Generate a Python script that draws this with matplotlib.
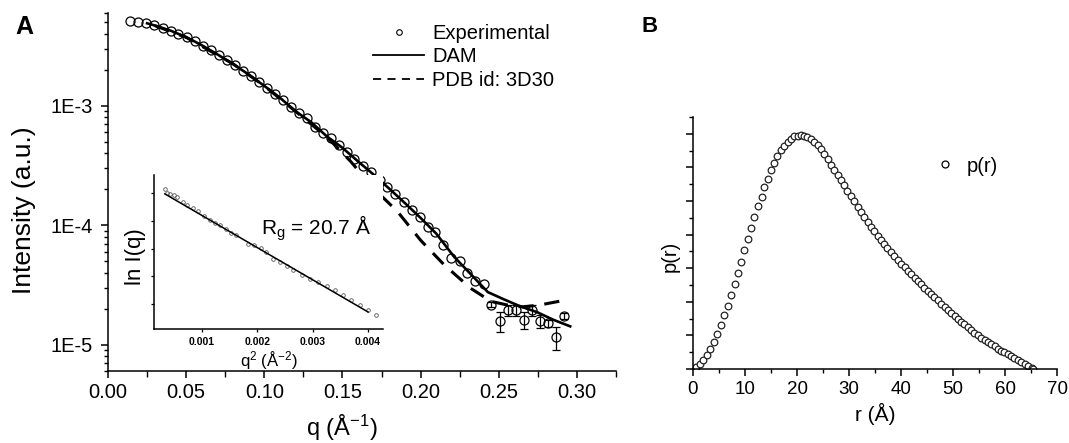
import numpy as np
import matplotlib
matplotlib.use('Agg')
import matplotlib.pyplot as plt
from matplotlib.lines import Line2D
from matplotlib.ticker import MultipleLocator, LogLocator, NullFormatter, FormatStrFormatter

plt.rcParams['font.family'] = ['Liberation Sans', 'DejaVu Sans']
plt.rcParams['mathtext.default'] = 'regular'

# --- panel A: scattering curve ---
q_exp = [0.0140, 0.0192, 0.0243, 0.0296, 0.0349, 0.0400, 0.0451, 0.0504, 0.0556, 0.0605,
         0.0658, 0.0707, 0.0760, 0.0811, 0.0864, 0.0915, 0.0966, 0.1015, 0.1066, 0.1117,
         0.1169, 0.1220, 0.1275, 0.1324, 0.1377, 0.1424, 0.1477, 0.1531, 0.1577, 0.1630,
         0.1684, 0.1737, 0.1786, 0.1839, 0.1892, 0.1946, 0.1994, 0.2045, 0.2094, 0.2144,
         0.2197, 0.2250, 0.2297, 0.2350, 0.2403, 0.2452, 0.2505, 0.2556, 0.2610, 0.2659,
         0.2712, 0.2761, 0.2812, 0.2865, 0.2918]
I_exp = [5.18e-3, 5.05e-3, 4.95e-3, 4.73e-3, 4.52e-3, 4.26e-3, 4.01e-3, 3.75e-3, 3.47e-3, 3.19e-3,
         2.92e-3, 2.67e-3, 2.42e-3, 2.20e-3, 1.97e-3, 1.78e-3, 1.59e-3, 1.42e-3, 1.26e-3, 1.12e-3,
         9.87e-4, 8.77e-4, 7.88e-4, 6.70e-4, 5.90e-4, 5.36e-4, 4.70e-4, 4.13e-4, 3.57e-4, 3.13e-4,
         2.77e-4, 2.39e-4, 2.10e-4, 1.81e-4, 1.57e-4, 1.34e-4, 1.17e-4, 9.68e-5, 8.79e-5, 6.79e-5,
         5.35e-5, 5.01e-5, 4.01e-5, 3.41e-5, 3.24e-5, 2.16e-5, 1.57e-5, 1.95e-5, 1.95e-5, 1.61e-5,
         1.93e-5, 1.57e-5, 1.51e-5, 1.15e-5, 1.75e-5]
I_err = [0] * 45 + [1e-6, 3e-6, 2e-6, 2e-6, 2.5e-6, 2e-6, 2e-6, 1e-6, 2.5e-6, 1e-6]

q_dam = [0.025, 0.03, 0.04, 0.05, 0.06, 0.07, 0.08, 0.09, 0.10, 0.11, 0.12, 0.13, 0.14,
         0.15, 0.16, 0.17, 0.18, 0.19, 0.20, 0.21, 0.2215, 0.232, 0.243, 0.253, 0.2637,
         0.2744, 0.285, 0.2957]
I_dam = [4.92e-3, 4.71e-3, 4.27e-3, 3.77e-3, 3.22e-3, 2.70e-3, 2.24e-3, 1.83e-3, 1.47e-3,
         1.17e-3, 9.0e-4, 7.3e-4, 5.55e-4, 4.45e-4, 3.42e-4, 2.65e-4, 2.02e-4, 1.53e-4,
         1.15e-4, 8.5e-5, 5.42e-5, 3.9e-5, 2.75e-5, 2.4e-5, 2.09e-5, 1.87e-5, 1.61e-5, 1.42e-5]

q_pdb = [0.03, 0.05, 0.08, 0.10, 0.12, 0.14, 0.150, 0.155, 0.170, 0.185, 0.200, 0.215,
         0.232, 0.245, 0.255, 0.265, 0.275, 0.290]
I_pdb = [4.70e-3, 3.75e-3, 2.25e-3, 1.47e-3, 8.99e-4, 5.48e-4, 4.03e-4, 3.45e-4, 2.03e-4,
         1.31e-4, 7.48e-5, 4.66e-5, 2.96e-5, 2.30e-5, 2.15e-5, 2.07e-5, 2.13e-5, 2.32e-5]

# inset: Guinier plot
q2_guinier = [0.000325, 0.000374, 0.000428, 0.000488, 0.000548, 0.000657, 0.000729, 0.000838,
              0.000928, 0.00104, 0.00114, 0.00123, 0.00132, 0.00143, 0.00152, 0.00161, 0.00183,
              0.00193, 0.00207, 0.00216, 0.00228, 0.00241, 0.00253, 0.00265, 0.00280, 0.00295,
              0.00310, 0.00325, 0.00340, 0.00355, 0.00370, 0.00385, 0.00400, 0.00415]
lnI_guinier = [-5.260, -5.277, -5.282, -5.289, -5.296, -5.318, -5.330, -5.343, -5.357, -5.380,
               -5.395, -5.409, -5.419, -5.437, -5.453, -5.463, -5.499, -5.506, -5.516, -5.535,
               -5.564, -5.579, -5.598, -5.615, -5.637, -5.651, -5.666, -5.685, -5.702, -5.724,
               -5.743, -5.767, -5.789, -5.811]
q2_fit = [0.000325, 0.00400]
lnI_fit = [-5.282, -5.796]

# --- panel B: pair distance distribution ---
r_vals = [0.0, 0.6, 1.3, 2.0, 2.7, 3.3, 4.0, 4.7, 5.3, 6.0, 6.7, 7.3, 8.0, 8.6, 9.2, 9.9,
          10.5, 11.2, 11.8, 12.5, 13.2, 13.7, 14.4, 15.0, 15.6, 16.2, 16.9, 17.5, 18.2, 18.8,
          19.5, 20.1, 20.7, 21.4, 22.0, 22.7, 23.3, 24.0, 24.6, 25.2, 25.9, 26.5, 27.2, 27.8,
          28.5, 29.1, 29.7, 30.4, 31.0, 31.7, 32.3, 32.9, 33.6, 34.2, 34.9, 35.5, 36.2, 36.8,
          37.4, 38.1, 38.7, 39.4, 40.0, 40.7, 41.3, 41.9, 42.6, 43.2, 43.9, 44.5, 45.2, 45.8,
          46.4, 47.1, 47.7, 48.4, 49.0, 49.6, 50.3, 50.9, 51.6, 52.2, 52.9, 53.5, 54.1, 54.8,
          55.4, 56.1, 56.7, 57.4, 58.0, 58.6, 59.3, 59.9, 60.6, 61.2, 61.8, 62.5, 63.1, 63.8,
          64.4, 65.1, 65.4]
p_vals = [0.0, 0.07, 0.14, 0.27, 0.42, 0.60, 0.81, 1.04, 1.31, 1.60, 1.88, 2.19, 2.53, 2.86,
          3.19, 3.53, 3.86, 4.20, 4.52, 4.84, 5.13, 5.41, 5.66, 5.92, 6.14, 6.34, 6.51, 6.65,
          6.77, 6.86, 6.92, 6.94, 6.95, 6.93, 6.90, 6.84, 6.77, 6.67, 6.54, 6.40, 6.24, 6.08,
          5.93, 5.78, 5.62, 5.47, 5.31, 5.15, 4.99, 4.83, 4.67, 4.52, 4.37, 4.24, 4.10, 3.97,
          3.84, 3.71, 3.59, 3.47, 3.36, 3.24, 3.13, 3.03, 2.92, 2.82, 2.72, 2.62, 2.52, 2.42,
          2.32, 2.23, 2.13, 2.04, 1.94, 1.86, 1.77, 1.68, 1.59, 1.50, 1.41, 1.33, 1.24, 1.16,
          1.08, 1.00, 0.93, 0.86, 0.79, 0.73, 0.67, 0.61, 0.55, 0.50, 0.45, 0.39, 0.33, 0.27,
          0.21, 0.15, 0.09, 0.04, 0.01]

W, H = 1069, 443
fig = plt.figure(figsize=(W / 100, H / 100), dpi=100)


def frac(left, top, right, bottom):
    # pixel box -> figure fraction
    return [left / W, 1 - bottom / H, (right - left) / W, (bottom - top) / H]


def clean(ax):
    ax.spines['top'].set_visible(False)
    ax.spines['right'].set_visible(False)
    for s in ('left', 'bottom'):
        ax.spines[s].set_linewidth(1.1)


# panel A
ax = fig.add_axes(frac(108, 13, 616, 371))
clean(ax)
ax.set_yscale('log')
ax.plot(q_dam, I_dam, color='black', lw=1.9, zorder=3)
ax.plot(q_pdb, I_pdb, color='black', lw=2.2, dashes=(5, 3.5), zorder=3)
ax.plot(q_exp, I_exp, 'o', ms=6.5, mfc='none', mec='black', mew=0.9, zorder=4)
q_a, I_a, e_a = np.array(q_exp), np.array(I_exp), np.array(I_err)
m = e_a > 0
ax.errorbar(q_a[m], I_a[m], yerr=e_a[m], fmt='none', ecolor='black', elinewidth=0.9,
            capsize=3, capthick=0.9, zorder=2)
ax.set_xlim(0, 0.325)
ax.set_ylim(6e-6, 6e-3)
ax.xaxis.set_major_locator(MultipleLocator(0.05))
ax.xaxis.set_minor_locator(MultipleLocator(0.025))
ax.xaxis.set_major_formatter(FormatStrFormatter('%.2f'))
ax.set_yticks([1e-5, 1e-4, 1e-3], ['1E-5', '1E-4', '1E-3'])
ax.yaxis.set_minor_locator(LogLocator(base=10, subs=np.arange(2, 10)))
ax.yaxis.set_minor_formatter(NullFormatter())
ax.tick_params(axis='both', which='major', direction='out', length=5, width=1.1, labelsize=14.5)
ax.tick_params(axis='both', which='minor', direction='out', length=3, width=1.0)
ax.tick_params(axis='x', which='minor', length=4.5)
ax.tick_params(axis='y', pad=6)
ax.set_ylabel('Intensity (a.u.)', fontsize=19)
ax.yaxis.set_label_coords(-0.142, 0.45)
ax.set_xlabel(r'q (Å$^{-1}$)', fontsize=17)
ax.xaxis.set_label_coords(0.46, -0.118)

handles = [Line2D([], [], ls='none', marker='o', ms=4, mfc='none', mec='black', mew=0.8),
           Line2D([], [], color='black', lw=1.3),
           Line2D([], [], color='black', lw=1.3, dashes=(4.5, 3.5))]
ax.legend(handles, ['Experimental', 'DAM', 'PDB id: 3D30'], loc='center left',
          bbox_to_anchor=(373 / W, 1 - 57 / H), bbox_transform=fig.transFigure,
          frameon=False, fontsize=14.5, handlelength=2.55, handletextpad=0.4,
          labelspacing=0.22, borderpad=0, borderaxespad=0)
fig.text(24 / W, 1 - 27 / H, 'A', fontsize=18, fontweight='bold', ha='center', va='center')

# inset
axi = fig.add_axes(frac(154, 175, 383, 329))
clean(axi)
axi.plot(q2_guinier, lnI_guinier, 'o', ms=2.6, mfc='none', mec='#555555', mew=0.6)
axi.plot(q2_fit, lnI_fit, color='black', lw=1.1)
axi.set_xlim(0.00013, 0.00427)
axi.set_ylim(-5.87, -5.20)
axi.set_xticks([0.001, 0.002, 0.003, 0.004], ['0.001', '0.002', '0.003', '0.004'])
axi.yaxis.set_major_locator(MultipleLocator(0.12))
axi.set_yticklabels([])
axi.tick_params(axis='both', direction='out', length=2.5, width=0.9, labelsize=7.5, pad=3)
for t in axi.get_xticklabels():
    t.set_fontweight('bold')
axi.set_ylabel('ln I(q)', fontsize=16)
axi.yaxis.set_label_coords(-0.035, 0.47)
axi.set_xlabel(r'q$^2$ (Å$^{-2}$)', fontsize=12, labelpad=2)
fig.text(316 / W, 1 - 228 / H, r'R$_g$ = 20.7 Å', fontsize=15, ha='center', va='center')

# panel B
axb = fig.add_axes(frac(693, 117, 1057, 369))
clean(axb)
axb.plot(r_vals, p_vals, 'o', ms=4.8, mfc='white', mec='#222222', mew=0.9)
axb.set_xlim(0, 70)
axb.set_ylim(0, 7.5)
axb.xaxis.set_major_locator(MultipleLocator(10))
axb.xaxis.set_minor_locator(MultipleLocator(5))
axb.yaxis.set_major_locator(MultipleLocator(1))
axb.yaxis.set_minor_locator(MultipleLocator(0.5))
axb.set_yticklabels([])
axb.tick_params(axis='both', which='major', direction='out', length=5, width=1.1, labelsize=13.5)
axb.tick_params(axis='both', which='minor', direction='out', length=3, width=1.0)
axb.set_xlabel('r (Å)', fontsize=15)
axb.xaxis.set_label_coords(0.5, -0.135)
axb.set_ylabel('p(r)', fontsize=14.5)
axb.yaxis.set_label_coords(-0.036, 0.445)
axb.legend([Line2D([], [], ls='none', marker='o', ms=5, mfc='white', mec='black', mew=0.9)],
           ['p(r)'], loc='center left', bbox_to_anchor=(933 / W, 1 - 166 / H),
           bbox_transform=fig.transFigure, frameon=False, fontsize=14.5,
           handlelength=1.2, handletextpad=0.45, borderpad=0, borderaxespad=0)
fig.text(650 / W, 1 - 26 / H, 'B', fontsize=16, fontweight='bold', ha='center', va='center')

fig.savefig('out.png', dpi=100)
